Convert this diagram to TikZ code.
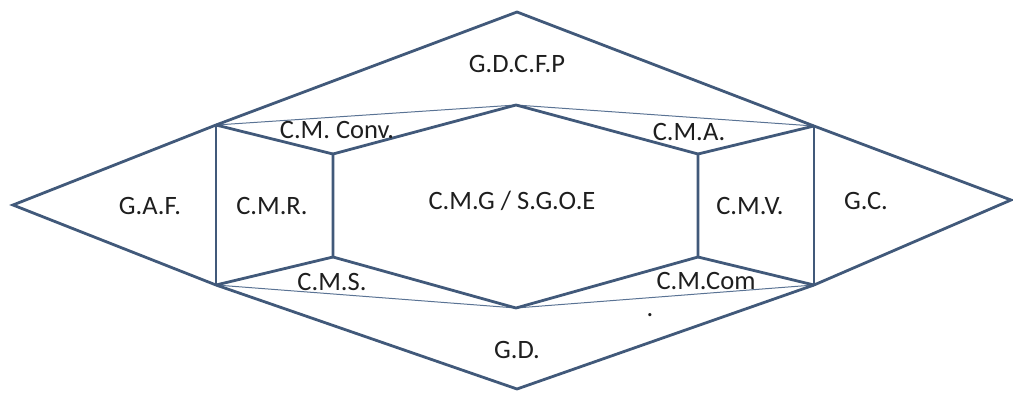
\documentclass[tikz,border=0pt]{standalone}
\usepackage{fontspec}
\setmainfont{Carlito}
\definecolor{edge}{HTML}{41597A}
\definecolor{thinedge}{HTML}{5A7394}
\definecolor{txt}{HTML}{1E1E1E}
\tikzset{
  thick line/.style={draw=edge, line width=2.8pt, line join=miter},
  thin line/.style={draw=thinedge, line width=1pt},
  lbl/.style={text=txt, font=\fontsize{26.5}{30}\selectfont, inner sep=0pt}
}
\begin{document}
\begin{tikzpicture}[x=1pt,y=-1pt]
\useasboundingbox (0,0) rectangle (1013,394);
% outer corners
\coordinate (L) at (13,205);
\coordinate (T) at (517,12);
\coordinate (R) at (1011,200);
\coordinate (B) at (517,389);
\coordinate (TL) at (216,125);
\coordinate (TR) at (814,126);
\coordinate (BL) at (216,285);
\coordinate (BR) at (814,285);
% inner hexagon
\coordinate (HT) at (516,105);
\coordinate (HUL) at (333,154);
\coordinate (HLL) at (333,257);
\coordinate (HB) at (516,308);
\coordinate (HLR) at (698,257);
\coordinate (HUR) at (698,154);
% thin lines
\draw[thin line] (TL) -- (HT) -- (TR);
\draw[thin line] (BL) -- (HB) -- (BR);
% outer diamond
\draw[thick line] (L) -- (TL) -- (T) -- (TR) -- (R) -- (BR) -- (B) -- (BL) -- cycle;
% rectangle sides
\draw[thick line] (TL) -- (BL);
\draw[thick line] (TR) -- (BR);
% hexagon
\draw[thick line] (HT) -- (HUR) -- (HLR) -- (HB) -- (HLL) -- (HUL) -- cycle;
% spokes
\draw[thick line] (TL) -- (HUL);
\draw[thick line] (BL) -- (HLL);
\draw[thick line] (TR) -- (HUR);
\draw[thick line] (BR) -- (HLR);
% labels
\node[lbl] (gdcfp) at (517,64) {G.D.C.F.P};
\node[lbl] (cmconv) at (337,130) {C.M. Conv.};
\node[lbl] (cma) at (689,132) {C.M.A.};
\node[lbl] (gaf) at (150,206) {G.A.F.};
\node[lbl] (cmr) at (272,206) {C.M.R.};
\node[lbl] (cmg) at (512,201) {C.M.G / S.G.O.E};
\node[lbl] (cmv) at (750,206) {C.M.V.};
\node[lbl] (gc) at (866,201) {G.C.};
\node[lbl] (cms) at (332,282) {C.M.S.};
\node[lbl] (cmcom) at (706,281) {C.M.Com};
\node[lbl] (dot) at (650,315) {.};
\node[lbl] (gd) at (517,350) {G.D.};
\end{tikzpicture}
\end{document}
